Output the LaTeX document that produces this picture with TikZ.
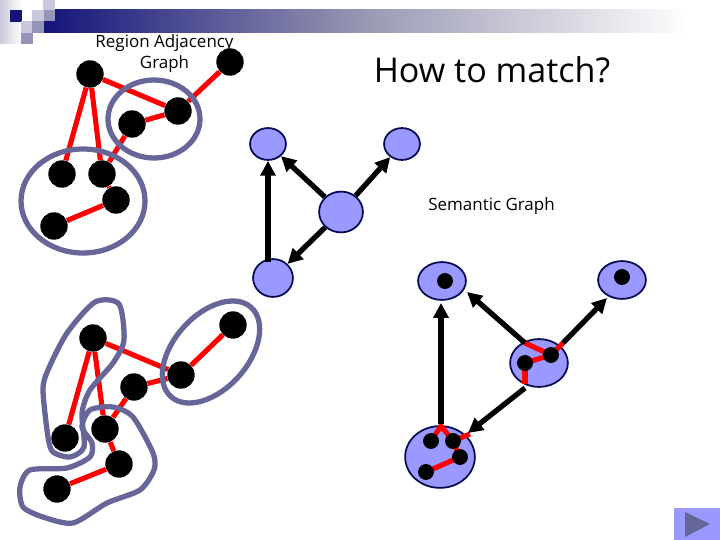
\documentclass[tikz,border=0pt]{standalone}
\usepackage{fontspec}
\setmainfont{Open Sans}
\usetikzlibrary{arrows.meta, shapes.geometric}
\definecolor{slatepurple}{HTML}{666699}
\definecolor{periwinkle}{HTML}{9999FF}
\definecolor{headnavy}{HTML}{14147A}
\definecolor{headgrey}{HTML}{9A9AB4}
\definecolor{semline}{HTML}{0A0A50}
\tikzset{
  region/.style={circle, fill=black, inner sep=0pt, minimum size=27.5*0.567pt},
  spot/.style={circle, fill=black, inner sep=0pt, minimum size=16*0.567pt},
  blob/.style={draw=slatepurple, line width=3pt},
  adj/.style={draw=red, line width=2.9pt},
  sem/.style={ellipse, draw=semline, fill=periwinkle, line width=1pt, inner sep=0pt},
  link/.style={draw=black, line width=3pt, -{Triangle[length=8.5pt,width=8.5pt]}},
  textlabel/.style={align=center, font=\fontsize{9.65}{12}\selectfont},
}
\begin{document}
\begin{tikzpicture}[x=0.02cm, y=-0.02cm]
  \useasboundingbox (0,0) rectangle (720,540);

  % header
  \shade[left color=headnavy, right color=headgrey] (44,10) rectangle (370,33);
  \shade[left color=headgrey, right color=white] (370,10) rectangle (690,33);
  \shade[left color=slatepurple!35, right color=white] (0,0) rectangle (22,44);
  \fill[headnavy] (10,10) rectangle (22,22);
  \fill[slatepurple!35] (43,0) rectangle (55,10);
  \fill[slatepurple!35] (32,10) rectangle (44,21);
  \fill[slatepurple!70] (44,10) rectangle (55,21);
  \fill[slatepurple!35] (21,21) rectangle (32,33);
  \fill[slatepurple!70] (32,21) rectangle (44,33);
  \fill[slatepurple!70] (21,33) rectangle (33,44);

  \node[textlabel] (adjtitle) at (164.5,53.5) {Region Adjacency\\Graph};
  \node[font=\fontsize{19.4}{23}\selectfont] (title) at (492,70) {How to match?};
  \node[textlabel] (semtitle) at (491.5,206.5) {Semantic Graph};

  % region adjacency graph
  \node[region] (a) at (90,74) {};
  \node[region] (b) at (230,62) {};
  \node[region] (c) at (178,111) {};
  \node[region] (d) at (132,124) {};
  \node[region] (e) at (62,174) {};
  \node[region] (f) at (102,174) {};
  \node[region] (g) at (116,200) {};
  \node[region] (h) at (54,226) {};
  \draw[adj] (a) -- (e);
  \draw[adj] (a) -- (f);
  \draw[adj] (a) -- (c);
  \draw[adj] (c) -- (b);
  \draw[adj] (c) -- (d);
  \draw[adj] (d) -- (f);
  \draw[adj] (f) -- (g);
  \draw[adj] (g) -- (h);
  \draw[blob] (154,119) ellipse (46 and 39);
  \draw[blob] (83,201) ellipse (62 and 52);

  % same graph with merged regions
  \node[region] (a2) at (93,338) {};
  \node[region] (b2) at (233,325) {};
  \node[region] (c2) at (181,375) {};
  \node[region] (d2) at (134,387) {};
  \node[region] (e2) at (65,438) {};
  \node[region] (f2) at (105,429) {};
  \node[region] (g2) at (119,464) {};
  \node[region] (h2) at (57,489) {};
  \draw[adj] (a2) -- (e2);
  \draw[adj] (a2) -- (f2);
  \draw[adj] (a2) -- (c2);
  \draw[adj] (c2) -- (b2);
  \draw[adj] (c2) -- (d2);
  \draw[adj] (d2) -- (f2);
  \draw[adj] (f2) -- (g2);
  \draw[adj] (g2) -- (h2);
  \draw[blob, rotate around={48:(211,352)}] (211,352) ellipse (60 and 37);
  \draw[blob] plot[smooth cycle, tension=0.45] coordinates {(95,302) (119,304) (124,340) (113,363) (90,390) (82,413) (84,447) (70,457) (53,452) (48,437) (43,390) (48,370) (67,333)};
  \draw[blob] plot[smooth cycle, tension=0.45] coordinates {(113,407) (133,417) (153,453) (154,470) (140,490) (107,503) (73,523) (43,517) (23,507) (20,487) (30,470) (67,468) (90,457) (92,443) (82,427) (90,410)};

  % semantic graph
  \node[sem, minimum width=36*0.567pt, minimum height=32*0.567pt] (n1) at (268,144) {};
  \node[sem, minimum width=36*0.567pt, minimum height=32*0.567pt] (n2) at (402,144) {};
  \node[sem, minimum width=44*0.567pt, minimum height=41*0.567pt] (n3) at (341,212) {};
  \node[sem, minimum width=40*0.567pt, minimum height=38*0.567pt] (n4) at (273,278) {};
  \coordinate (n4top) at (268,262);
  \draw[link] (n4top) -- (n4top |- n1.south);
  \draw[link] (n3) -- (n1);
  \draw[link] (n3) -- (n2);
  \draw[link] (n3) -- (n4);

  % semantic graph holding the regions
  \node[sem, minimum width=48*0.567pt, minimum height=38*0.567pt] (m1) at (442,281) {};
  \node[sem, minimum width=48*0.567pt, minimum height=38*0.567pt] (m2) at (622,280) {};
  \node[sem, minimum width=58*0.567pt, minimum height=48*0.567pt] (m3) at (539,363) {};
  \node[sem, minimum width=70*0.567pt, minimum height=62*0.567pt] (m4) at (440,457) {};
  \node[spot] (s1) at (445,281) {};
  \node[spot] (s2) at (622,277) {};
  \coordinate (t1) at (525,343);
  \coordinate (t2) at (563,343);
  \coordinate (t3) at (525,384);
  \coordinate (t4) at (441,426);
  \coordinate (t5) at (470,434);
  \draw[adj] (551,355) coordinate (p3) -- (525,363) coordinate (p4);
  \draw[adj] (p3) -- (t1);
  \draw[adj] (p3) -- (t2);
  \draw[adj] (p4) -- (t3);
  \draw[adj] (431,441) coordinate (p5) -- (t4) -- (453,441) coordinate (p6);
  \draw[adj] (p6) -- (t5);
  \draw[adj] (p6) -- (460,457) coordinate (p7);
  \draw[adj] (p7) -- (426,472) coordinate (p8);
  \node[spot] (s3) at (p3) {};
  \node[spot] (s4) at (p4) {};
  \node[spot] (s5) at (p5) {};
  \node[spot] (s6) at (p6) {};
  \node[spot] (s7) at (p7) {};
  \node[spot] (s8) at (p8) {};
  \coordinate (u1) at (467,292);
  \coordinate (u2) at (607,298);
  \coordinate (u3) at (525,388);
  \coordinate (u4) at (468,433);
  \coordinate (u5) at (441,424);
  \coordinate (u6) at (441,303);
  \draw[link] (u5) -- (u6);
  \draw[link] (t1) -- (u1);
  \draw[link] (t2) -- (u2);
  \draw[link] (u3) -- (u4);

  % next button
  \fill[periwinkle] (674,508) rectangle (720,540);
  \fill[slatepurple] (685,512) -- (710,524) -- (685,537) -- cycle;
\end{tikzpicture}
\end{document}
